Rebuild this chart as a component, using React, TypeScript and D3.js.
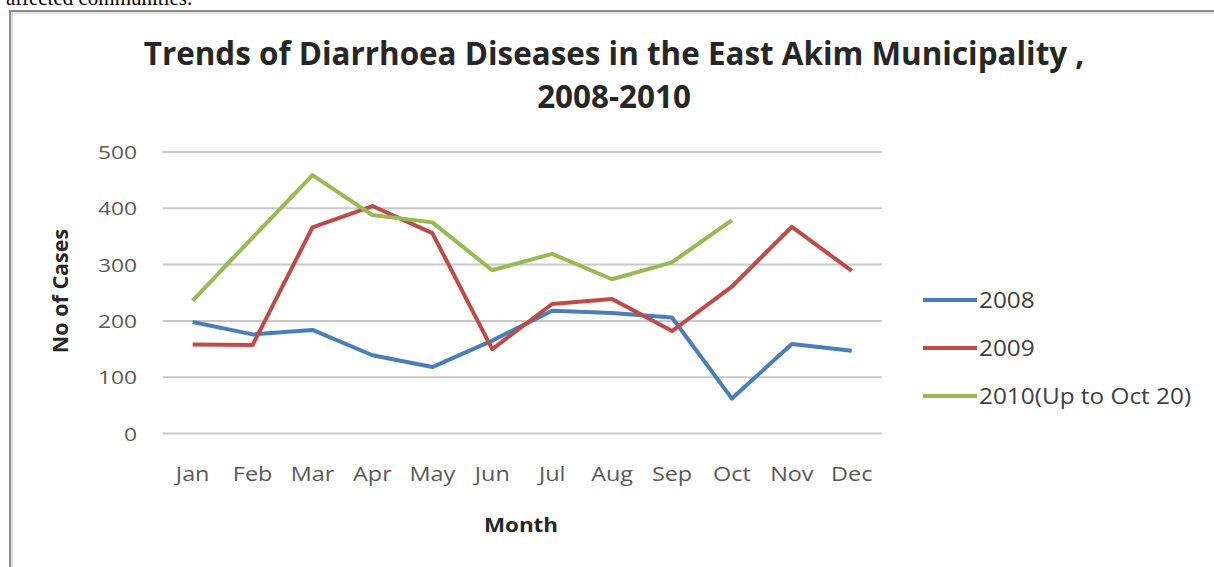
import { useEffect, useRef } from "react";
import * as d3 from "d3";

const months = ["Jan", "Feb", "Mar", "Apr", "May", "Jun", "Jul", "Aug", "Sep", "Oct", "Nov", "Dec"];
const cases2008 = [198, 176, 184, 139, 118, 165, 218, 214, 206, 62, 159, 147];
const cases2009 = [158, 157, 366, 404, 356, 150, 230, 239, 182, 261, 367, 289];
const cases2010 = [236, 348, 459, 388, 375, 290, 319, 274, 304, 379];
const yTicks = [0, 100, 200, 300, 400, 500];

const seriesList = [
  { name: "2008", values: cases2008, color: "#4A7EBB" },
  { name: "2009", values: cases2009, color: "#BE4B48" },
  { name: "2010(Up to Oct 20)", values: cases2010, color: "#98B954" },
];

const W = 1214;
const H = 567;
const font = "'Open Sans', 'Noto Sans', sans-serif";

export default function App() {
  const ref = useRef<SVGSVGElement | null>(null);

  useEffect(() => {
    if (!ref.current) return;
    const svg = d3.select(ref.current);
    svg.selectAll("*").remove();

    // page text above the chart, cut off at the top
    svg.append("text")
      .attr("x", 6).attr("y", 5)
      .attr("font-family", "'Liberation Serif', 'Times New Roman', serif")
      .attr("font-size", 21).attr("fill", "#000")
      .text("affected communities.");

    // chart frame
    svg.append("rect")
      .attr("x", 10).attr("y", 11).attr("width", W + 20).attr("height", H + 20)
      .attr("fill", "#fff").attr("stroke", "#8c8c8c").attr("stroke-width", 2);
    svg.append("rect")
      .attr("x", 12).attr("y", 13).attr("width", W + 20).attr("height", H + 20)
      .attr("fill", "none").attr("stroke", "#d8d8d8").attr("stroke-width", 1.5);

    // title
    const title = svg.append("text")
      .attr("text-anchor", "middle")
      .attr("font-family", font).attr("font-weight", "bold")
      .attr("font-size", 31.4).attr("fill", "#262626");
    title.append("tspan").attr("x", 614).attr("y", 65)
      .text("Trends of Diarrhoea Diseases in the East Akim Municipality ,");
    title.append("tspan").attr("x", 614).attr("y", 108).text("2008-2010");

    const left = 162.7, right = 881.7, top = 152, bottom = 433.5;

    const x = d3.scaleBand<string>().domain(months).range([left, right]);
    const y = d3.scaleLinear().domain([0, 500]).range([bottom, top]);
    const cx = (m: string) => x(m)! + x.bandwidth() / 2;

    // grid
    svg.append("g")
      .selectAll("line")
      .data(yTicks)
      .join("line")
      .attr("x1", left).attr("x2", right)
      .attr("y1", (d) => y(d)).attr("y2", (d) => y(d))
      .attr("stroke", "#c8c8c8").attr("stroke-width", 2);

    // y labels (source text is a bit stretched sideways)
    svg.append("g")
      .selectAll("text")
      .data(yTicks)
      .join("text")
      .attr("transform", (d) => `translate(137,${y(d) + 7}) scale(1.2,1)`)
      .attr("text-anchor", "end")
      .attr("font-family", font).attr("font-size", 19).attr("fill", "#595959")
      .text((d) => d);

    // x labels
    svg.append("g")
      .selectAll("text")
      .data(months)
      .join("text")
      .attr("transform", (d) => `translate(${cx(d)},481) scale(1.2,1)`)
      .attr("text-anchor", "middle")
      .attr("font-family", font).attr("font-size", 19.5).attr("fill", "#595959")
      .text((d) => d);

    // axis titles
    svg.append("text")
      .attr("transform", "translate(521,532) scale(1.12,1)")
      .attr("text-anchor", "middle")
      .attr("font-family", font).attr("font-weight", "bold")
      .attr("font-size", 20).attr("fill", "#262626")
      .text("Month");
    svg.append("text")
      .attr("transform", "translate(68,291) rotate(-90)")
      .attr("text-anchor", "middle")
      .attr("font-family", font).attr("font-weight", "bold")
      .attr("font-size", 21.5).attr("fill", "#262626")
      .text("No of Cases");

    // lines
    const line = d3.line<number>()
      .x((_, i) => cx(months[i]))
      .y((d) => y(d));

    seriesList.forEach((s) => {
      svg.append("path")
        .attr("d", line(s.values)!)
        .attr("fill", "none")
        .attr("stroke", s.color)
        .attr("stroke-width", 4)
        .attr("stroke-linejoin", "round");
    });

    // legend
    const lg = svg.append("g")
      .selectAll("g")
      .data(seriesList)
      .join("g")
      .attr("transform", (_, i) => `translate(0,${300 + i * 48})`);
    lg.append("line")
      .attr("x1", 923).attr("x2", 977)
      .attr("stroke", (d) => d.color).attr("stroke-width", 4);
    lg.append("text")
      .attr("transform", "translate(979,7.5) scale(1.16,1)")
      .attr("font-family", font).attr("font-size", 21).attr("fill", "#404040")
      .text((d) => d.name);
  }, []);

  return (
    <svg
      ref={ref}
      width={W}
      height={H}
      style={{ position: "absolute", left: 0, top: 0, background: "#fff" }}
    />
  );
}
